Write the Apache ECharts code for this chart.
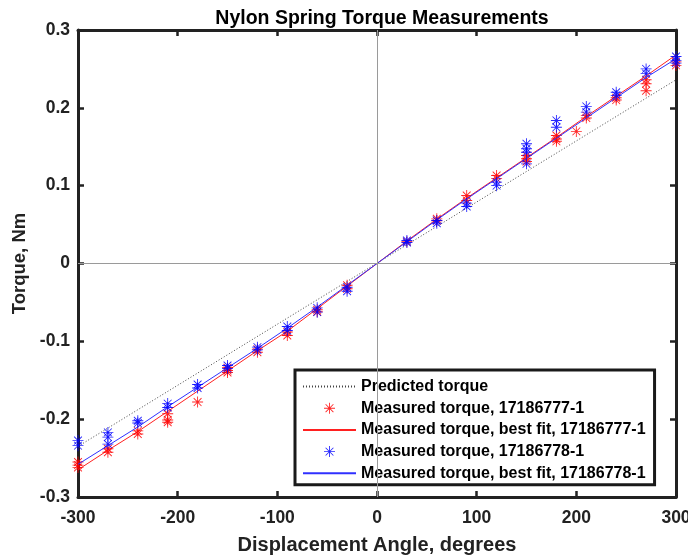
<!DOCTYPE html>
<html>
<head>
<meta charset="utf-8">
<script src="https://cdn.jsdelivr.net/npm/echarts@6/dist/echarts.min.js"></script>
<style>html,body{margin:0;padding:0;background:#fff;}#c{width:688px;height:559px;}</style>
</head>
<body>
<div id="c"></div>
<script>
// ---- data ----
const xTicks = [-300, -200, -100, 0, 100, 200, 300];
const yTicks = [-0.3, -0.2, -0.1, 0, 0.1, 0.2, 0.3];

const predictedAngles = [-300, 300];
const predictedTorque = [-0.235, 0.236];

const redAngles = [-300,-300,-300,-270,-270,-240,-240,-210,-210,-210,-180,-150,-150,-150,-120,-120,-90,-90,-60,-60,-30,-30,30,60,60,90,90,120,120,150,150,150,180,180,180,200,210,210,240,240,270,270,270,300,300];
const redTorque = [-0.255,-0.262,-0.259,-0.238,-0.2425,-0.219,-0.215,-0.193,-0.201,-0.204,-0.178,-0.1375,-0.140,-0.134,-0.114,-0.110,-0.088,-0.0925,-0.0595,-0.062,-0.028,-0.0325,0.028,0.0574,0.055,0.0874,0.081,0.113,0.109,0.1388,0.1346,0.131,0.1645,0.157,0.160,0.1697,0.190,0.187,0.210,0.213,0.236,0.222,0.231,0.259,0.2545];

const blueAngles = [-300,-300,-270,-270,-270,-240,-240,-210,-210,-180,-180,-150,-150,-120,-120,-90,-90,-60,-60,-30,-30,30,30,60,60,90,90,120,120,150,150,150,150,180,180,210,210,240,240,270,270,300,300,300];
const blueTorque = [-0.2275,-0.234,-0.217,-0.223,-0.232,-0.202,-0.205,-0.180,-0.185,-0.1555,-0.160,-0.131,-0.135,-0.1075,-0.111,-0.081,-0.086,-0.057,-0.0625,-0.0305,-0.0356,0.0296,0.027,0.0553,0.0518,0.0775,0.0733,0.1045,0.100,0.1538,0.1474,0.143,0.128,0.1838,0.175,0.2018,0.1945,0.220,0.216,0.250,0.244,0.266,0.261,0.2575];

const fitAngles = [-300,-270,-240,-210,-180,-150,-120,-90,-60,-30,0,30,60,90,120,150,180,210,240,270,300];
const redFit = [-0.265,-0.240,-0.216,-0.190,-0.164,-0.138,-0.112,-0.087,-0.058,-0.029,0,0.029,0.057,0.084,0.110,0.136,0.162,0.189,0.215,0.241,0.268];
const blueFit = [-0.258,-0.234,-0.210,-0.184,-0.159,-0.134,-0.109,-0.083,-0.056,-0.028,0,0.028,0.056,0.083,0.109,0.135,0.161,0.187,0.213,0.239,0.263];

const seriesNames = ['Predicted torque','Measured torque, 17186777-1','Measured torque, best fit, 17186777-1','Measured torque, 17186778-1','Measured torque, best fit, 17186778-1'];
const titleText = 'Nylon Spring Torque Measurements';
const xName = 'Displacement Angle, degrees';
const yName = 'Torque, Nm';

// ---- rendering ----
const FONT = '"Liberation Sans", Arial, sans-serif';
const INK = '#222222';
const STAR = 'path://M46 0L54 0L54 100L46 100Z M0 46L100 46L100 54L0 54Z M17.4 11.8L88.2 82.6L82.6 88.2L11.8 17.4Z M88.2 17.4L17.4 88.2L11.8 82.6L82.6 11.8Z';
const zip = (a, b) => a.map((v, i) => [v, b[i]]);

const axisCommon = {
  type: 'value',
  axisLine: { show: true, onZero: false, lineStyle: { color: INK, width: 3 } },
  axisTick: { show: true, inside: true, length: 6, lineStyle: { color: INK, width: 2.5 } },
  splitLine: { show: false }
};

const lineOnly = { itemStyle: { opacity: 0 } };
const legendData = [
  Object.assign({ name: seriesNames[0] }, lineOnly),
  { name: seriesNames[1] },
  Object.assign({ name: seriesNames[2] }, lineOnly),
  { name: seriesNames[3] },
  Object.assign({ name: seriesNames[4] }, lineOnly)
];

const chart = echarts.init(document.getElementById('c'), null, { renderer: 'canvas' });
chart.setOption({
  animation: false,
  backgroundColor: '#ffffff',
  title: {
    text: titleText, left: 377, top: 4, textAlign: 'center',
    textStyle: { fontFamily: FONT, fontWeight: 'bold', fontSize: 19.5, color: '#000' }
  },
  grid: { left: 78, right: 12, top: 30, bottom: 62, containLabel: false, outerBoundsMode: 'none' },
  xAxis: [
    Object.assign({}, axisCommon, {
      position: 'bottom', min: xTicks[0], max: xTicks[xTicks.length - 1], interval: 100,
      name: xName, nameLocation: 'middle', nameGap: 38,
      nameTextStyle: { fontFamily: FONT, fontWeight: 'bold', fontSize: 20, color: INK },
      axisLabel: { fontFamily: FONT, fontWeight: 'bold', fontSize: 17.5, color: INK, margin: 12 }
    }),
    Object.assign({}, axisCommon, {
      position: 'top', min: xTicks[0], max: xTicks[xTicks.length - 1], interval: 100,
      axisLabel: { show: false }
    })
  ],
  yAxis: [
    Object.assign({}, axisCommon, {
      position: 'left', min: yTicks[0], max: yTicks[yTicks.length - 1], interval: 0.1,
      name: yName, nameLocation: 'middle', nameGap: 45, nameRotate: 90,
      nameTextStyle: { fontFamily: FONT, fontWeight: 'bold', fontSize: 18.5, color: INK },
      axisLabel: { fontFamily: FONT, fontWeight: 'bold', fontSize: 17.5, color: INK, margin: 8,
        formatter: v => String(+v.toFixed(1)) }
    }),
    Object.assign({}, axisCommon, {
      position: 'right', min: yTicks[0], max: yTicks[yTicks.length - 1], interval: 0.1,
      axisLabel: { show: false }
    })
  ],
  legend: {
    orient: 'vertical', left: 295, top: 370,
    data: legendData,
    backgroundColor: '#ffffff', borderColor: '#1a1a1a', borderWidth: 3, borderRadius: 0,
    padding: [8, 9, 3, 7],
    itemWidth: 53, itemHeight: 11, itemGap: 4.7,
    textStyle: { fontFamily: FONT, fontWeight: 'bold', fontSize: 16, color: '#000', lineHeight: 17 },
    selectedMode: false
  },
  series: [
    {
      name: '_zero', type: 'line', data: [], silent: true, z: 1,
      markLine: {
        silent: true, symbol: 'none', label: { show: false }, animation: false,
        lineStyle: { color: '#9a9a9a', width: 1, type: 'solid' },
        data: [{ xAxis: 0 }, { yAxis: 0 }]
      }
    },
    {
      name: seriesNames[0], type: 'line', data: zip(predictedAngles, predictedTorque),
      symbol: 'none', lineStyle: { color: '#444444', width: 1, type: [1, 2] }, itemStyle: { color: '#444444' }, z: 2
    },
    {
      name: seriesNames[1], type: 'scatter', data: zip(redAngles, redTorque),
      symbol: STAR, symbolSize: 11, itemStyle: { color: '#ff0000', opacity: 0.85 }, z: 3
    },
    {
      name: seriesNames[2], type: 'line', data: zip(fitAngles, redFit),
      symbol: 'none', lineStyle: { color: '#ff2020', width: 1 }, itemStyle: { color: '#ff2020' }, z: 3
    },
    {
      name: seriesNames[3], type: 'scatter', data: zip(blueAngles, blueTorque),
      symbol: STAR, symbolSize: 11, itemStyle: { color: '#0000ff', opacity: 0.85 }, z: 4
    },
    {
      name: seriesNames[4], type: 'line', data: zip(fitAngles, blueFit),
      symbol: 'none', lineStyle: { color: '#3030ff', width: 1 }, itemStyle: { color: '#3030ff' }, z: 4
    }
  ]
});
</script>
</body>
</html>
